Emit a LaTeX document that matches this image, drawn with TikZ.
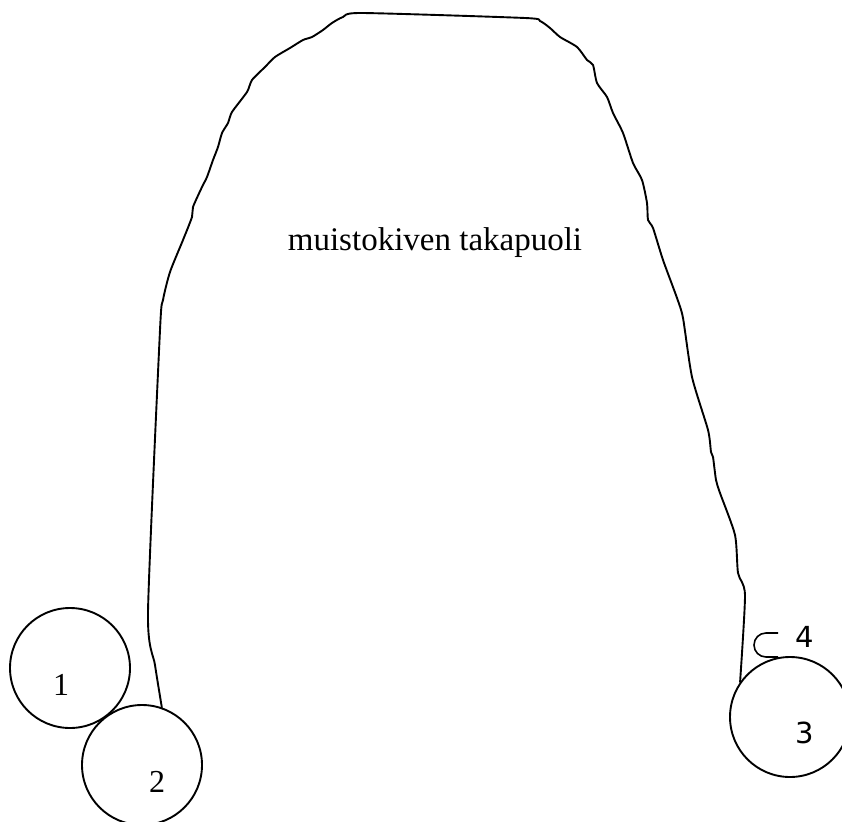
\documentclass[tikz,border=0pt]{standalone}
\usepackage{fontspec}
\setmainfont{Liberation Serif}
\newfontfamily\dejavu{DejaVu Sans}
\begin{document}
\begin{tikzpicture}[x=1pt,y=-1pt,
  stoneline/.style={line width=1.9pt,line join=round,line cap=round},
  disc/.style={circle,draw,line width=1.9pt,minimum size=120pt,inner sep=0pt},
  serlabel/.style={inner sep=0pt,font=\fontsize{32}{38}\selectfont},
  titlelabel/.style={inner sep=0pt,font=\fontsize{33}{40}\selectfont},
  sanslabel/.style={inner sep=0pt,font=\dejavu\fontsize{29}{35}\selectfont}]
\useasboundingbox (0,0) rectangle (842,821);
\node[disc] (c1) at (70,668) {};
\node[disc] (c2) at (142,765) {};
\node[disc] (c3) at (790,717) {};
\node[serlabel] (l1) at (61,685) {1};
\node[serlabel] (l2) at (157,782) {2};
\node[sanslabel] (l3) at (805,733) {3};
\node[sanslabel] (l4) at (805,637) {4};
\node[titlelabel] (title) at (435,243) {muistokiven takapuoli};
\draw[stoneline] plot[smooth,tension=0.4] coordinates {
(c2.71) (155,665) (148,612) (160,330) (163,300) (170,272) (183,240)
(192,217) (193,207) (202,187) (207,177) (213,160) (218,147) (222,133) (228,123)
(232,112) (247,92) (252,80) (265,67) (275,57) (290,48) (303,40) (312,37)
(323,30) (332,23) (343,17) (362,13) (525,18) (540,21) (550,28) (560,37)
(577,47) (587,60) (593,65) (597,83) (607,97) (613,113) (623,133) (633,163)
(642,180) (647,203) (648,220) (653,228) (663,260) (677,298) (683,318) (692,377)
(708,430) (711,452) (713,457) (716,480) (720,493) (735,535) (738,573) (745,595)
(c3.145)};
\draw[line width=1.6pt] (778,633) -- (766,633) arc[start angle=270,end angle=90,radius=12] -- (778,657);
\end{tikzpicture}
\end{document}
